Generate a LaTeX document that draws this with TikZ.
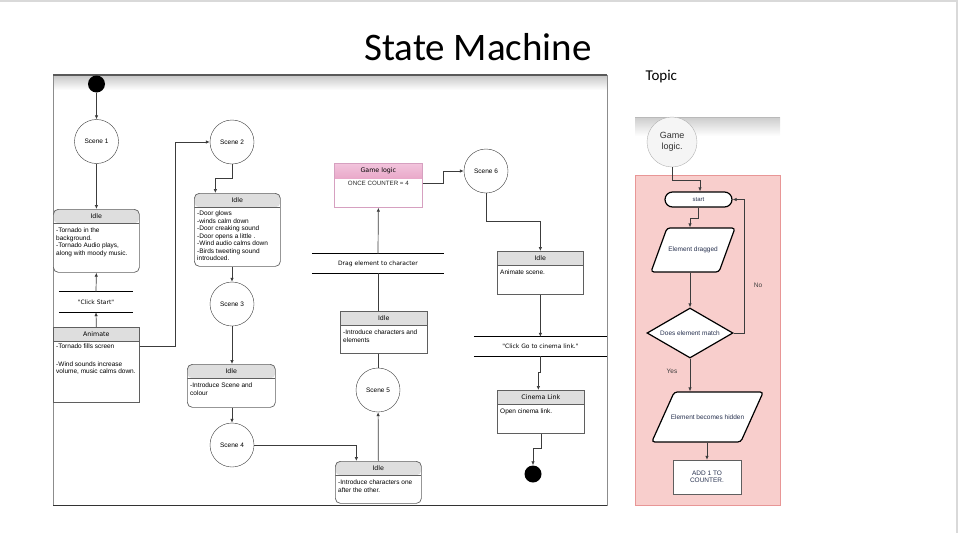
\documentclass[tikz,border=0pt]{standalone}
\usepackage{fontspec}
\setmainfont{Liberation Sans}
\newfontfamily\headfont{DejaVu Sans}
\newfontfamily\titlefont{Carlito}
\usetikzlibrary{arrows.meta,shapes.geometric,positioning}

\definecolor{ccline}{RGB}{60,60,60}
\definecolor{ccbox}{RGB}{95,95,95}
\definecolor{cchead}{RGB}{222,222,222}
\definecolor{ccpinktop}{RGB}{242,196,220}
\definecolor{ccpinkbot}{RGB}{216,116,166}
\definecolor{ccpinkline}{RGB}{214,160,192}
\definecolor{ccpanel}{RGB}{248,206,204}
\definecolor{ccpanelline}{RGB}{232,150,150}
\definecolor{ccnavy}{RGB}{40,50,80}
\definecolor{ccframe}{RGB}{140,140,140}

\tikzset{
  scene/.style={circle, draw=ccline, fill=white, minimum size=44pt, inner sep=0pt,
    font=\fontsize{6.5}{7}\selectfont},
  dot/.style={circle, fill=black, minimum size=17pt, inner sep=0pt},
  statebox/.style={draw=ccbox, fill=white, anchor=north west, minimum width=86pt,
    inner sep=0pt, line width=0.7pt,
    path picture={
      \fill[cchead] (path picture bounding box.north west) rectangle
        ([yshift=-14pt]path picture bounding box.north east);
      \draw[ccbox, line width=0.7pt] ([yshift=-14pt]path picture bounding box.north west) --
        ([yshift=-14pt]path picture bounding box.north east);}},
  roundbox/.style={statebox, rounded corners=5pt},
  pinkbox/.style={draw=ccpinkline, fill=white, anchor=north west, minimum width=88pt,
    inner sep=0pt, line width=0.7pt,
    path picture={
      \shade[top color=ccpinktop, bottom color=ccpinkbot] (path picture bounding box.north west) rectangle
        ([yshift=-15pt]path picture bounding box.north east);}},
  headtext/.style={inner sep=0pt, yshift=-7pt, font=\headfont\fontsize{6.3}{7}\selectfont},
  bodytext/.style={anchor=north west, inner sep=0pt, xshift=3pt, yshift=-19pt, align=left,
    font=\fontsize{6.5}{7.5}\selectfont},
  barbox/.style={minimum height=20pt, inner sep=0pt, font=\headfont\fontsize{6}{7}\selectfont},
  barline/.style={black, line width=1.3pt},
  arr/.style={ccline, line width=0.7pt, -{Latex[length=4pt,width=3.5pt]}},
  conn/.style={ccline, line width=0.7pt},
  flowterm/.style={draw=black, line width=1.2pt, fill=white, rounded corners=7.5pt,
    minimum width=67pt, minimum height=15pt, inner sep=0pt, text=ccnavy,
    font=\fontsize{6}{7}\selectfont},
  flowio/.style={draw=black, line width=1.2pt, fill=white, rounded corners=3pt, inner sep=0pt},
  flowtext/.style={inner sep=0pt, text=ccnavy, font=\fontsize{6.5}{7.5}\selectfont},
  flowdec/.style={diamond, aspect=1.7, draw=black, line width=1.2pt, fill=white,
    minimum width=86pt, minimum height=50pt, inner sep=0pt, text=ccnavy,
    font=\fontsize{6.5}{7.5}\selectfont},
  flowproc/.style={draw=ccbox, fill=white, minimum width=68pt, minimum height=34pt,
    inner sep=0pt, align=center, text=ccnavy, font=\fontsize{6.5}{7.5}\selectfont},
  flowlbl/.style={inner sep=0pt, text=ccline, font=\fontsize{6.5}{7.5}\selectfont}
}

\begin{document}
\begin{tikzpicture}[x=1pt, y=-1pt]

  % Bounding box of the page
  \useasboundingbox (0,0) rectangle (961,533);
  \draw[gray!30, line width=2pt] (0,1) -- (957,1) -- (957,533);

  %%%%%%%%%%%%%%%%%%%%%%%%%%%%%%%%% Titles %%%%%%%%%%%%%%%%%%%%%%%%%%%%%%%%%%%%
  \draw (478,47) node[font=\titlefont\fontsize{39}{44}\selectfont] (title) {State Machine};
  \draw (642,77) node[anchor=west, font=\titlefont\fontsize{15}{18}\selectfont] (topic) {Topic};

  %%%%%%%%%%%%%%%%%%%%%%%%%%%%%%%%% Frame of the state machine %%%%%%%%%%%%%%%%%%%%%%%%%%%%%%%%%%%%
  \shade[top color=gray!45, bottom color=white] (53,75) rectangle (607,90);
  \draw[ccframe, line width=0.8pt] (53,75) rectangle (607,505);
  \draw[gray!70!black, line width=2pt] (53,75) -- (607,75);
  \draw[black!80, line width=1pt] (53,505) -- (607,505);

  %%%%%%%%%%%%%%%%%%%%%%%%%%%%%%%%% States %%%%%%%%%%%%%%%%%%%%%%%%%%%%%%%%%%%%

  % Start and end
  \draw (96.5,84) node[dot] (s0) {} ;
  \draw (533,474) node[dot] (s1) {} ;

  % Scenes
  \draw (96.5,141.5) node[scene] (sc1) {Scene 1} ;
  \draw (232,142) node[scene] (sc2) {Scene 2} ;
  \draw (232,304) node[scene] (sc3) {Scene 3} ;
  \draw (232,445) node[scene] (sc4) {Scene 4} ;
  \draw (378,390) node[scene] (sc5) {Scene 5} ;
  \draw (486,171) node[scene] (sc6) {Scene 6} ;

  % Boxes
  \draw (53,209) node[roundbox, minimum height=63pt] (i1) {} ;
  \draw (i1.north) node[headtext] (i1h) {Idle} ;
  \draw (i1.north west) node[bodytext] (i1t) {-Tornado in the\\background.\\-Tornado Audio plays,\\along with moody music.} ;

  \draw (53,327) node[statebox, minimum height=75pt] (an1) {} ;
  \draw (an1.north) node[headtext] (an1h) {Animate} ;
  \draw (an1.north west) node[bodytext, yshift=2pt] (an1t) {-Tornado fills screen\\[10pt]-Wind sounds increase\\volume, music calms down.} ;

  \draw (194,193) node[roundbox, minimum height=73pt] (i2) {} ;
  \draw (i2.north) node[headtext] (i2h) {Idle} ;
  \draw (i2.north west) node[bodytext, yshift=1pt] (i2t) {-Door glows\\-winds calm down\\-Door creaking sound\\-Door opens a little .\\-Wind audio calms down\\-Birds tweeting sound\\introudced.} ;

  \draw (187,364) node[roundbox, minimum width=88pt, minimum height=43pt] (i3) {} ;
  \draw (i3.north) node[headtext] (i3h) {Idle} ;
  \draw (i3.north west) node[bodytext] (i3t) {-Introduce Scene and\\colour} ;

  \draw (335,461) node[roundbox, minimum height=42pt] (i4) {} ;
  \draw (i4.north) node[headtext] (i4h) {Idle} ;
  \draw (i4.north west) node[bodytext] (i4t) {-Introduce characters one\\after the other.} ;

  \draw (340,311) node[statebox, minimum width=87pt, minimum height=42pt] (i5) {} ;
  \draw (i5.north) node[headtext] (i5h) {Idle} ;
  \draw (i5.north west) node[bodytext] (i5t) {-Introduce characters and\\elements} ;

  \draw (334,163) node[pinkbox, minimum height=44pt] (gl) {} ;
  \draw (gl.north) node[headtext, yshift=-0.5pt] (glh) {Game logic} ;
  \draw ([yshift=-20pt]gl.north) node[inner sep=0pt, text=black!85, font=\fontsize{6.2}{7}\selectfont] (glt) {ONCE COUNTER = 4} ;

  \draw (497,251) node[statebox, minimum height=43pt] (i6) {} ;
  \draw (i6.north) node[headtext] (i6h) {Idle} ;
  \draw (i6.north west) node[bodytext] (i6t) {Animate scene.} ;

  \draw (497,390) node[statebox, minimum width=87pt, minimum height=43pt] (cl) {} ;
  \draw (cl.north) node[headtext] (clh) {Cinema Link} ;
  \draw (cl.north west) node[bodytext] (clt) {Open cinema link.} ;

  % Events
  \draw (96,302) node[barbox, minimum width=74pt] (b1) {"Click Start"} ;
  \draw (378,263.5) node[barbox, minimum width=132pt, minimum height=19pt] (b2) {Drag element to character} ;
  \draw (540.5,346.5) node[barbox, minimum width=133pt, minimum height=19pt] (b3) {"Click Go to cinema link."} ;
  \foreach \b in {b1,b2,b3}
    \draw[barline] (\b.north west) -- (\b.north east) (\b.south west) -- (\b.south east) ;

  %%%%%%%%%%%%%%%%%%%%%%%%%%%%%%%%% Transitions %%%%%%%%%%%%%%%%%%%%%%%%%%%%%%%%%%%%
  \draw[arr] (s0) -- (sc1) ;
  \draw[arr] (sc1) -- (i1) ;
  \draw[arr] (b1.north) -- (i1.south) ;
  \draw[arr] (an1.north) -- (b1.south) ;
  \draw[arr] ([yshift=19pt]an1.east) -- ++(36,0) |- (sc2) ;
  \draw[arr] (sc2.south) -- ++(0,14) -| ([xshift=-22pt]i2.north) ;
  \draw[arr] (sc3 |- i2.south) -- (sc3) ;
  \draw[arr] (sc3) -- (sc3 |- i3.north) ;
  \draw[arr] (sc4 |- i3.south) -- (sc4) ;
  \draw[arr] (sc4) -| ([xshift=-22pt]i4.north) ;
  \draw[arr] (i4.north) -- (sc5) ;
  \draw[conn] (sc5) -- (sc5 |- i5.south) ;
  \draw[conn] (b2.south) -- (b2.south |- i5.north) ;
  \draw[arr] (b2.north) -- (gl.south) ;
  \draw[arr] ([yshift=2pt]gl.east) -- ++(21,0) |- (sc6) ;
  \draw[arr] (sc6.south) -- ++(0,28) -| (i6.north) ;
  \draw[arr] (i6.south) -- (i6.south |- b3.north) ;
  \draw[arr] (b3.south) -- ++(0,16) -| ([xshift=-2.5pt]cl.north) ;
  \draw[arr] (cl.south) -- ++(0,15) -| (s1) ;

  %%%%%%%%%%%%%%%%%%%%%%%%%%%%%%%%% Topic panel %%%%%%%%%%%%%%%%%%%%%%%%%%%%%%%%%%%%
  \shade[top color=gray!40, bottom color=white] (635,117) rectangle (780,136);
  \draw[gray!55] (635,117) -- (780,117);
  \draw[fill=ccpanel, draw=ccpanelline] (635,175) rectangle (780,505);

  \draw (672,142) node[circle, draw=gray!60, fill=gray!8, minimum size=50pt, inner sep=0pt,
    align=center, text=black!80, font=\fontsize{9}{10.5}\selectfont] (glc) {Game\\logic.} ;
  \draw (698.5,199.5) node[flowterm] (st) {start} ;
  \draw (693,250) node[flowio, xslant=0.364, minimum width=68pt, minimum height=44pt] (ed) {} ;
  \draw (ed.center) node[flowtext] (edt) {Element dragged} ;
  \draw (690,333) node[flowdec] (dm) {Does element match} ;
  \draw (707.5,417) node[flowio, xslant=0.45, minimum width=89pt, minimum height=50pt] (eh) {} ;
  \draw (eh.center) node[flowtext] (eht) {Element becomes hidden} ;
  \draw (707,477) node[flowproc] (ad) {ADD 1 TO\\COUNTER.} ;

  \draw (758,285) node[flowlbl] (no) {No} ;
  \draw (672,371) node[flowlbl] (yes) {Yes} ;

  \draw[arr] (glc.south) -- ++(0,13) -| ([xshift=1.5pt]st.north) ;
  \draw[arr] (st.south) -- ++(0,11) -| (dm |- ed.north) ;
  \draw[arr] (dm |- ed.south) -- (dm.north) ;
  \draw[arr] (dm.east) -- ++(11,0) |- (st.east) ;
  \draw[arr] (dm.south) -- (dm |- eh.north) ;
  \draw[arr] (ad |- eh.south) -- (ad.north) ;

\end{tikzpicture}
\end{document}
